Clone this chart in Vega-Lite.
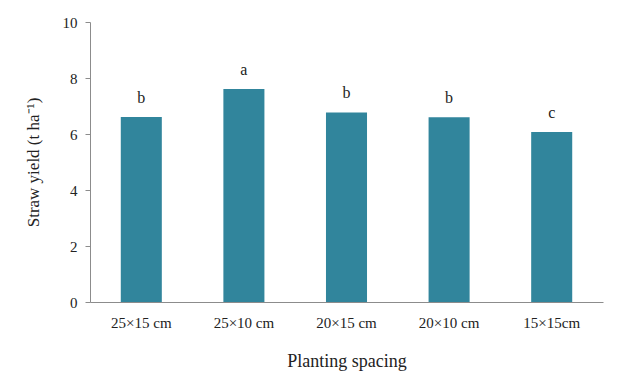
{
  "$schema": "https://vega.github.io/schema/vega-lite/v6.json",
  "autosize": {"type": "none"},
  "padding": {"left": 90, "top": 22, "right": 15, "bottom": 85},
  "width": 513,
  "height": 280,
  "background": "white",
  "config": {
    "view": {"stroke": null},
    "font": "Liberation Serif",
    "axis": {"grid": false, "domainColor": "#8c8c8c", "tickColor": "#8c8c8c", "labelColor": "#222222", "titleColor": "#222222", "labelFont": "Liberation Serif", "titleFont": "Liberation Serif", "titleFontWeight": "normal"}
  },
  "data": {
    "values": [
      {"spacing": "25×15 cm", "yield": 6.61, "letter": "b"},
      {"spacing": "25×10 cm", "yield": 7.61, "letter": "a"},
      {"spacing": "20×15 cm", "yield": 6.77, "letter": "b"},
      {"spacing": "20×10 cm", "yield": 6.6, "letter": "b"},
      {"spacing": "15×15cm", "yield": 6.07, "letter": "c"}
    ]
  },
  "encoding": {
    "x": {
      "field": "spacing", "type": "nominal", "sort": null,
      "scale": {"paddingInner": 0.6, "paddingOuter": 0.3},
      "axis": {"title": "Planting spacing", "labelAngle": 0, "ticks": false, "labelFontSize": 15, "labelPadding": 13, "titleFontSize": 18, "titlePadding": 22, "domainWidth": 1}
    },
    "y": {
      "field": "yield", "type": "quantitative",
      "scale": {"domain": [0, 10], "nice": false},
      "axis": {"title": "Straw yield (t ha⁻¹)", "values": [0, 2, 4, 6, 8, 10], "labelFontSize": 15, "tickSize": 5, "labelPadding": 8, "titleFontSize": 17, "titlePadding": 20}
    }
  },
  "layer": [
    {"mark": {"type": "bar", "color": "#31859c"}},
    {
      "mark": {"type": "text", "dy": -11, "baseline": "bottom", "fontSize": 16, "font": "Liberation Serif", "color": "#222222"},
      "encoding": {"text": {"field": "letter"}}
    }
  ]
}
